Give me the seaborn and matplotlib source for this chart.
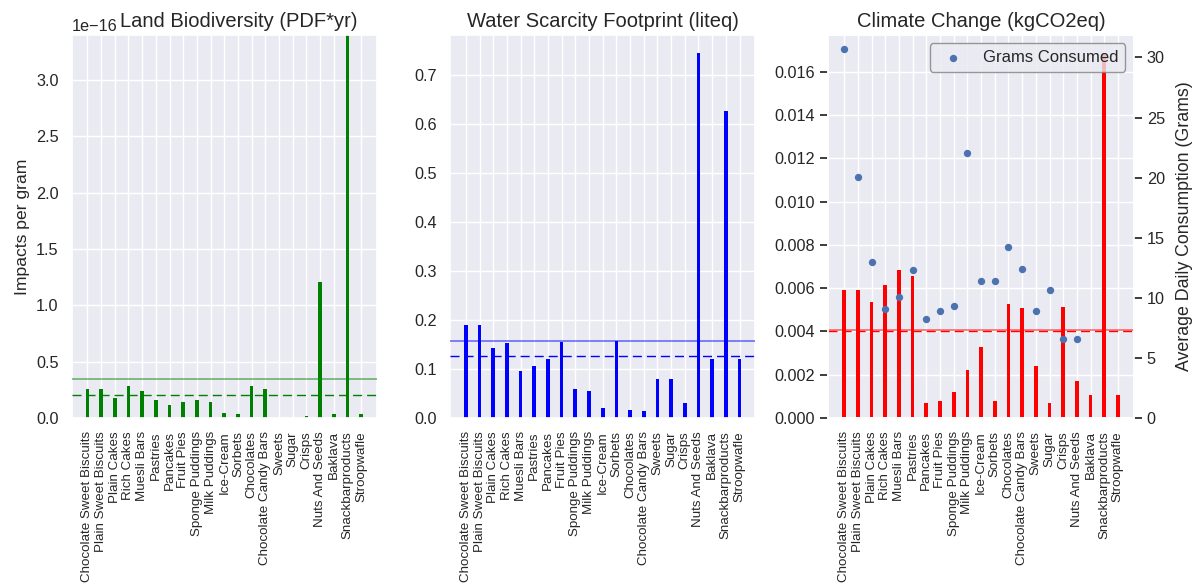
import numpy as np
import pandas as pd
import matplotlib
matplotlib.use("Agg")
import matplotlib.pyplot as plt
import seaborn as sns

categories = [
    "Chocolate Sweet Biscuits", "Plain Sweet Biscuits", "Plain Cakes", "Rich Cakes",
    "Muesli Bars", "Pastries", "Pancakes", "Fruit Pies", "Sponge Puddings",
    "Milk Puddings", "Ice-Cream", "Sorbets", "Chocolates", "Chocolate Candy Bars",
    "Sweets", "Sugar", "Crisps", "Nuts And Seeds", "Baklava", "Snackbarproducts",
    "Stroopwafle",
]

# Land biodiversity (PDF*yr per gram), in units of 1e-16
land_1e16 = [0.254, 0.254, 0.180, 0.280, 0.243, 0.157, 0.118, 0.142, 0.163, 0.139,
             0.044, 0.038, 0.280, 0.254, 0.0, 0.0, 0.015, 1.21, 0.038, 3.40, 0.038]

# Water scarcity footprint (liteq per gram)
water = [0.191, 0.191, 0.1435, 0.154, 0.097, 0.107, 0.120, 0.156, 0.060, 0.055,
         0.020, 0.158, 0.017, 0.015, 0.079, 0.079, 0.030, 0.7455, 0.120, 0.6265, 0.120]

# Climate change (kgCO2eq per gram), in units of 1e-3
climate_1e3 = [5.93, 5.93, 5.37, 6.13, 6.83, 6.58, 0.70, 0.79, 1.19, 2.20,
               3.27, 0.79, 5.25, 5.08, 2.41, 0.67, 5.11, 1.72, 1.07, 16.85, 1.07]

# Average daily consumption (grams); no value for the last three
grams = [30.67, 20.08, 12.98, 9.09, 10.09, 12.34, 8.24, 8.93, 9.32, 22.05,
         11.40, 11.40, 14.23, 12.42, 8.90, 10.68, 6.60, 6.60, np.nan, np.nan, np.nan]

titles = ["Land Biodiversity (PDF*yr)", "Water Scarcity Footprint (liteq)",
          "Climate Change (kgCO2eq)"]
colors = ["green", "blue", "red"]

sns.set_theme(style="darkgrid")
plt.rcParams["font.family"] = ["Liberation Sans", "DejaVu Sans"]

land = np.array(land_1e16) * 1e-16
climate = np.array(climate_1e3) * 1e-3
g = np.array(grams, dtype=float)
series = [land, np.array(water), climate]

fig, axes = plt.subplots(1, 3, figsize=(11.99, 5.86), dpi=100)
fig.subplots_adjust(left=0.0598, right=0.9455, bottom=0.2867, top=0.9403, wspace=0.240)

n = len(categories)
w = 0.27
pad = 0.05 * (n - 1 + w)

for i, (ax, vals, col, title) in enumerate(zip(axes, series, colors, titles)):
    df = pd.DataFrame({"cat": categories, "val": vals})
    sns.barplot(data=df, x="cat", y="val", color=col, width=w, saturation=1,
                linewidth=0, ax=ax)
    ax.grid(True, axis="both")
    mean = np.mean(vals)
    mask = ~np.isnan(g)
    wmean = np.sum(vals[mask] * g[mask]) / np.sum(g[mask])
    ax.axhline(mean, color=col, alpha=0.5, lw=1.3, zorder=3)
    ax.axhline(wmean, color=col, lw=1.0, linestyle=(0, (6.5, 3.6)), zorder=3)
    ax.set_xlim(-w / 2 - pad, n - 1 + w / 2 + pad)
    if i == 0:
        ax.set_ylim(0, vals.max())
    else:
        ax.set_ylim(0, vals.max() * 1.05)
    ax.set_title(title, fontsize=14.5, x=0.547 if i == 0 else 0.5, y=1.0, pad=6)
    ax.set_xlabel("")
    ax.set_ylabel("")
    ax.tick_params(axis="x", labelrotation=90, labelsize=9.6)
    ax.tick_params(axis="y", labelsize=11.7)
    ax.yaxis.get_offset_text().set_fontsize(11.7)

axes[0].set_ylabel("Impacts per gram", fontsize=12.6)

ax2 = axes[2].twinx()
sns.scatterplot(x=np.arange(n), y=g, ax=ax2, color="#4c72b0", s=28, linewidth=0,
                label="Grams Consumed", zorder=4)
ax2.set_ylim(bottom=0)
ax2.grid(False)
ax2.tick_params(axis="y", labelsize=11.7)
ax2.set_ylabel("Average Daily Consumption (Grams)", fontsize=12.8, labelpad=8)
ax2.legend(loc="upper right", fontsize=12, edgecolor="0.5", framealpha=0.8)
axes[2].set_xlim(-w / 2 - pad, n - 1 + w / 2 + pad)

fig.savefig("out.png", dpi=100)
